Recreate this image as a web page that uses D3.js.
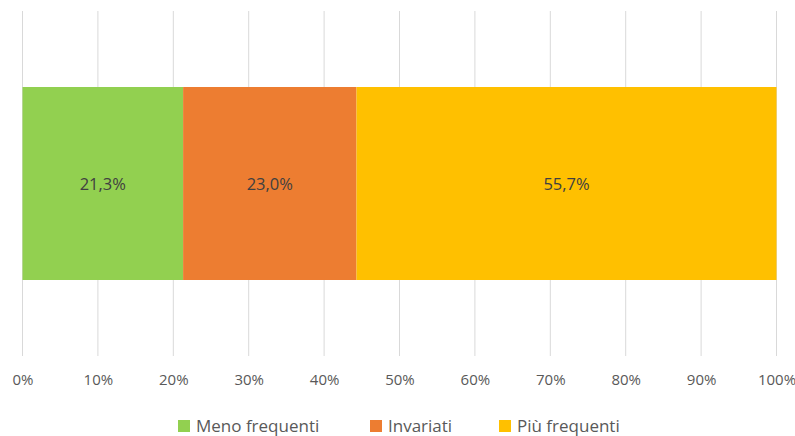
<!DOCTYPE html>
<html><head><meta charset="utf-8">
<script src="https://cdn.jsdelivr.net/npm/d3@7"></script>
<style>body{margin:0;background:#fff}svg{display:block}text{font-family:"Open Sans",sans-serif}</style>
</head><body><svg id="c" width="795" height="436"></svg>
<script>
const seriesNames = ["Meno frequenti", "Invariati", "Più frequenti"];
const seriesValues = [21.3, 23.0, 55.7];
const seriesLabels = ["21,3%", "23,0%", "55,7%"];
const seriesColors = ["#92D050", "#ED7D31", "#FFC000"];
const tickValues = [0,10,20,30,40,50,60,70,80,90,100];

const svg = d3.select("#c");
const x = d3.scaleLinear().domain([0,100]).range([22.5,776.5]);

// gridlines
svg.append("g").selectAll("line").data(tickValues).join("line")
  .attr("x1", d=>x(d)).attr("x2", d=>x(d)).attr("y1", 11).attr("y2", 356)
  .attr("stroke", "#D9D9D9").attr("stroke-width", 1);

// stacked data
let acc = 0;
const stacked = seriesValues.map((v,i)=>{const s={x0:acc,x1:acc+v,i};acc+=v;return s;});
svg.append("g").selectAll("rect").data(stacked).join("rect")
  .attr("x", d=>x(d.x0)).attr("width", d=>x(d.x1)-x(d.x0))
  .attr("y", 87).attr("height", 193)
  .attr("fill", d=>seriesColors[d.i]);
svg.append("g").selectAll("text").data(stacked).join("text")
  .attr("x", d=>(x(d.x0)+x(d.x1))/2).attr("y", 184)
  .attr("dy", "0.35em").attr("text-anchor", "middle")
  .attr("font-size", 16.5).attr("fill", "#404040")
  .text(d=>seriesLabels[d.i]);

// axis
const axis = d3.axisBottom(x).tickValues(tickValues).tickFormat(d=>d+"%").tickSize(0).tickPadding(0);
const ag = svg.append("g").attr("transform","translate(0,380)").call(axis);
ag.select(".domain").remove();
ag.selectAll("text").attr("font-size", 15).attr("fill", "#595959").attr("dy","0.35em")
  .style("font-family","'Open Sans',sans-serif");

// legend
const legX = [178, 370, 499];
const lg = svg.append("g").selectAll("g").data(seriesNames).join("g")
  .attr("transform", (d,i)=>`translate(${legX[i]},426)`);
lg.append("rect").attr("x",0).attr("y",-6).attr("width",12).attr("height",12)
  .attr("fill",(d,i)=>seriesColors[i]);
lg.append("text").attr("x",18).attr("y",0).attr("dy","0.35em")
  .attr("font-size",17).attr("fill","#595959").text(d=>d);
</script></body></html>
